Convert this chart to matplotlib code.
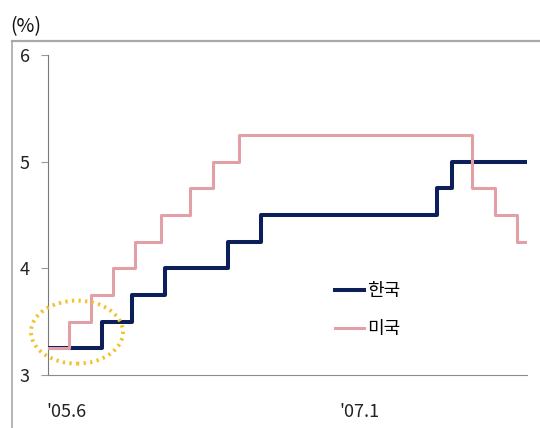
import numpy as np
import pandas as pd
import matplotlib
matplotlib.use("Agg")
import matplotlib.pyplot as plt
from matplotlib.lines import Line2D
from matplotlib.patches import Ellipse

plt.rcParams['font.family'] = ['Noto Sans CJK KR', 'DejaVu Sans']

# ---------------------------------
# POLICY RATES (change dates, %)
# ---------------------------------

kr_dates = pd.to_datetime(['2005-06-30', '2005-10-11', '2005-12-08', '2006-02-09',
                           '2006-06-08', '2006-08-10', '2007-07-12', '2007-08-09',
                           '2007-12-31'])
kr_rates = [3.25, 3.5, 3.75, 4.0, 4.25, 4.5, 4.75, 5.0, 5.0]

us_dates = pd.to_datetime(['2005-06-30', '2005-08-09', '2005-09-20', '2005-11-01',
                           '2005-12-13', '2006-01-31', '2006-03-28', '2006-05-10',
                           '2006-06-29', '2007-09-18', '2007-10-31', '2007-12-11',
                           '2007-12-31'])
us_rates = [3.25, 3.5, 3.75, 4.0, 4.25, 4.5, 4.75, 5.0, 5.25, 4.75, 4.5, 4.25, 4.25]

xtick_dates = pd.to_datetime(['2005-08-05', '2007-02-14'])
xtick_labels = ["'05.6", "'07.1"]
yticks = [3, 4, 5, 6]

navy = '#0c1f5a'
pink = '#e2a0a6'

# ---------------------------------
# FIGURE
# ---------------------------------

fig = plt.figure(figsize=(5.4, 4.28), dpi=100)
ax = fig.add_axes([48/540, 53/428, 479/540, 320/428])

ax.plot(kr_dates, kr_rates, drawstyle='steps-post', color=navy, lw=2.9,
        label='한국', zorder=3)
ax.plot(us_dates, us_rates, drawstyle='steps-post', color=pink, lw=2.2,
        label='미국', zorder=4)

ax.set_xlim(kr_dates[0], kr_dates[-1])
ax.set_ylim(3, 6)
ax.set_yticks(yticks)
ax.set_xticks(xtick_dates)
ax.set_xticklabels(xtick_labels)

for s in ['top', 'right']:
    ax.spines[s].set_visible(False)
ax.spines['left'].set_color('#7a7a7a')
ax.spines['bottom'].set_color('#8a8a8a')
ax.tick_params(axis='y', length=5, width=0.8, color='#9a9a9a', pad=8,
               labelsize=13, labelcolor='#222222')
ax.tick_params(axis='x', length=0, pad=20, labelsize=13, labelcolor='#222222')

leg = ax.legend(loc='center left', bbox_to_anchor=(0.599, 0.203), frameon=False,
                borderpad=0, borderaxespad=0, handlelength=1.6,
                handletextpad=0.2, labelspacing=1.1, fontsize=13)

# dotted highlight around the start of the series
ax.add_patch(Ellipse((0.0605, 0.134), 0.192, 0.197, transform=ax.transAxes,
                     fill=False, ec='#f2c230', lw=2.8, ls=(0, (0.6, 1.1)),
                     clip_on=False, zorder=5))

# outer frame lines and unit label
fig.add_artist(Line2D([12/540, 1], [1 - 41/428] * 2, color='#a8a8a8', lw=1.6))
fig.add_artist(Line2D([12/540] * 2, [0, 1 - 41/428], color='#a8a8a8', lw=1.2))
fig.text(10/540, 1 - 27/428, '(%)', fontsize=14, va='center', ha='left',
         color='#111111')

fig.savefig('out.png', dpi=100)
